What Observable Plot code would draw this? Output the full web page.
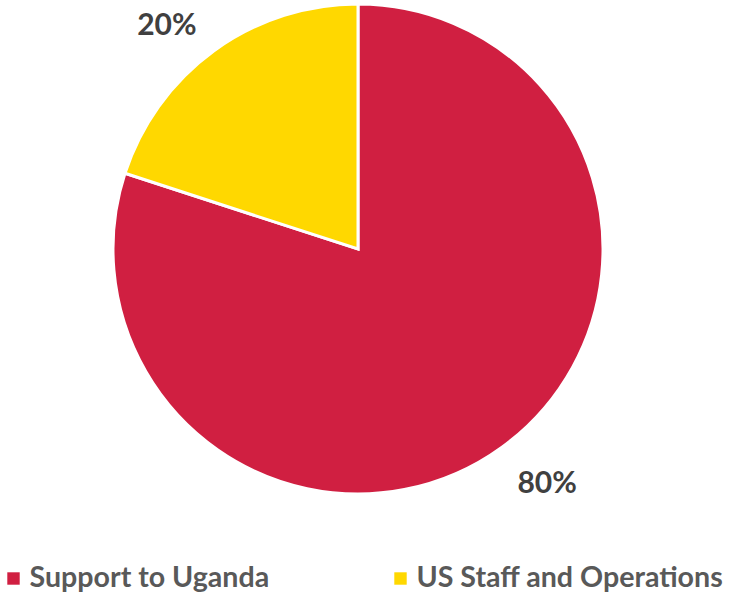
<!DOCTYPE html>
<html>
<head>
<meta charset="utf-8">
<script src="https://cdn.jsdelivr.net/npm/d3@7"></script>
<script src="https://cdn.jsdelivr.net/npm/@observablehq/plot@0.6"></script>
<style>
  html, body { margin: 0; padding: 0; background: #fff; }
  #chart svg { display: block; }
</style>
</head>
<body>
<div id="chart"></div>
<script>
// ---- data ----
const categories = ["Support to Uganda", "US Staff and Operations"];
const shares = [80, 20];
const colors = ["#D01F41", "#FFD800"];
const pctLabels = ["80%", "20%"];

// ---- layout ----
const W = 732, H = 594;
const CX = 358, CY = 249, R = 245;
const FONT = "Lato, 'Open Sans', sans-serif";

const pie = d3.pie().sort(null).value(d => d.value)(
  categories.map((c, i) => ({category: c, value: shares[i], label: pctLabels[i]}))
);

// label anchor points along mid angle just outside the pie
const labelData = pie.map(p => {
  const a = (p.startAngle + p.endAngle) / 2;
  const rr = R + 10;
  const x = CX + rr * Math.sin(a), y = CY - rr * Math.cos(a);
  const right = Math.sin(a) >= 0;
  return {label: p.data.label, x, y, right};
});

const pieMark = (index, scales) => {
  const g = d3.create("svg:g")
    .attr("transform", `translate(${scales.x(CX)},${scales.y(CY)})`);
  const arc = d3.arc().innerRadius(0).outerRadius(R);
  g.selectAll("path").data(pie).join("path")
    .attr("d", arc)
    .attr("fill", d => scales.color(d.data.category))
    .attr("stroke", "#fff")
    .attr("stroke-width", 3)
    .attr("stroke-linejoin", "miter");
  return g.node();
};

const legendX = [7, 394];

const plot = Plot.plot({
  width: W, height: H,
  margin: 0,
  x: {domain: [0, W], range: [0, W], axis: null},
  y: {domain: [0, H], range: [0, H], axis: null},
  color: {domain: categories, range: colors},
  style: {fontFamily: FONT, background: "#fff"},
  marks: [
    pieMark,
    Plot.text(labelData.filter(d => d.right), {
      x: "x", y: "y", text: "label", textAnchor: "start",
      lineAnchor: "top", dx: 9, dy: 16,
      fontSize: 30, fontWeight: "bold", fill: "#404040"
    }),
    Plot.text(labelData.filter(d => !d.right), {
      x: "x", y: "y", text: "label", textAnchor: "end",
      lineAnchor: "bottom", dx: -12, dy: -8,
      fontSize: 30, fontWeight: "bold", fill: "#404040"
    }),
    Plot.dot(categories, {
      x: (d, i) => legendX[i] + 6, y: 578, fill: d => d,
      symbol: "square", r: 7, stroke: null
    }),
    Plot.text(categories, {
      x: (d, i) => legendX[i] + 22, y: 577, text: d => d,
      textAnchor: "start", fontSize: 28.6, fontWeight: "bold", fill: "#595959"
    })
  ]
});

document.getElementById("chart").appendChild(plot);
</script>
</body>
</html>
